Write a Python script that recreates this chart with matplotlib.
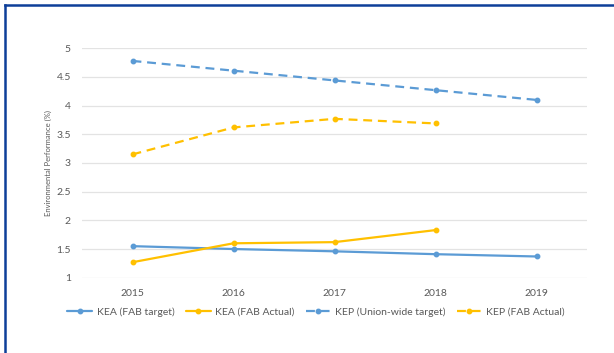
import matplotlib
matplotlib.use("Agg")
import matplotlib.pyplot as plt
from matplotlib.lines import Line2D

plt.rcParams['font.family'] = ['Lato', 'DejaVu Sans']

years = ["2015", "2016", "2017", "2018", "2019"]
kea_target = [1.55, 1.50, 1.46, 1.41, 1.37]
kea_actual = [1.27, 1.60, 1.62, 1.83]
kep_target = [4.78, 4.61, 4.44, 4.27, 4.10]
kep_actual = [3.15, 3.62, 3.77, 3.69]
yticks = [1, 1.5, 2, 2.5, 3, 3.5, 4, 4.5, 5]
ytick_labels = ["1", "1.5", "2", "2.5", "3", "3.5", "4", "4.5", "5"]

BLUE = "#5B9BD5"
GOLD = "#FFC000"
TXT = "#595959"

fig = plt.figure(figsize=(6.14, 3.53), dpi=100)
ax = fig.add_axes([82 / 614, 1 - 277.7 / 353, 505 / 614, (277.7 - 48.3) / 353])

x_all = list(range(len(years)))
x_act = list(range(len(kea_actual)))

lw = 1.6
ms = 3.2
ax.plot(x_all, kea_target, color=BLUE, lw=lw, marker="o", ms=ms,
        label="KEA (FAB target)", solid_capstyle="round")
ax.plot(x_act, kea_actual, color=GOLD, lw=lw, marker="o", ms=ms,
        label="KEA (FAB Actual)", solid_capstyle="round")
ax.plot(x_all, kep_target, color=BLUE, lw=lw, marker="o", ms=ms,
        ls=(0, (4, 2.6)), label="KEP (Union-wide target)")
ax.plot(x_act, kep_actual, color=GOLD, lw=lw, marker="o", ms=ms,
        ls=(0, (4, 2.6)), label="KEP (FAB Actual)")

ax.set_xlim(-0.5, 4.5)
ax.set_ylim(1, 5)
ax.set_xticks(x_all)
ax.set_xticklabels(years)
ax.set_yticks(yticks)
ax.set_yticklabels(ytick_labels)
ax.tick_params(axis="both", length=0, labelsize=7.5, colors=TXT)
ax.tick_params(axis="y", pad=8)
ax.tick_params(axis="x", pad=8)
for s in ax.spines.values():
    s.set_visible(False)
ax.grid(axis="y", color="#e3e3e3", lw=0.9)
ax.set_axisbelow(True)

fig.text(48 / 614, 1 - 163 / 353, "Environmental Performance (%)", rotation=90,
         ha="center", va="center", fontsize=5.5, color=TXT)

fig.legend(loc="center", bbox_to_anchor=(316 / 614, 1 - 312 / 353), ncol=4,
           frameon=False, fontsize=7.5, handlelength=2.4, handletextpad=0.4,
           columnspacing=1.1, labelcolor=TXT)

# frame lines along the top and left edges
border = "#0d3f99"
fig.add_artist(Line2D([4.5 / 614, 1], [1 - 4.5 / 353, 1 - 4.5 / 353],
                      color=border, lw=1.8, transform=fig.transFigure))
fig.add_artist(Line2D([4.5 / 614, 4.5 / 614], [0, 1 - 4.5 / 353],
                      color=border, lw=1.8, transform=fig.transFigure))

fig.savefig("out.png", dpi=100)
